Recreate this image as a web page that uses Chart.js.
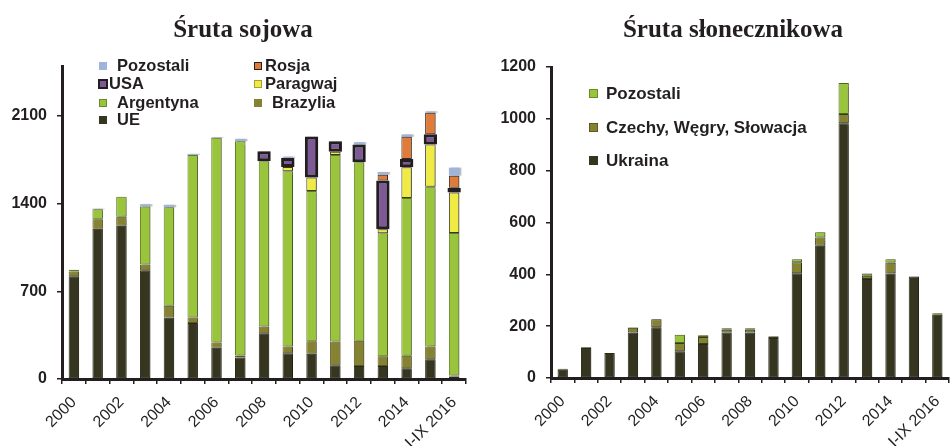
<!DOCTYPE html>
<html lang="pl">
<head>
    <meta charset="UTF-8">
    <title>Śruta sojowa / Śruta słonecznikowa</title>
    <style>
        body {
            margin: 0;
            width: 952px;
            height: 446px;
            overflow: hidden;
            background: #fff;
            position: relative;
            font-family: "Liberation Sans", Arial, sans-serif;
            color: #231f20;
        }
        .panel { position: absolute; top: 0; height: 446px; }
        .title {
            position: absolute;
            top: 16px;
            font-family: "Liberation Serif", "Times New Roman", serif;
            font-weight: bold;
            font-size: 25px;
            line-height: 25px;
            white-space: nowrap;
            transform: translateX(-50%);
        }
        .leg {
            position: absolute;
            font-weight: bold;
            font-size: 16.5px;
            line-height: 18px;
            white-space: nowrap;
        }
        .leg.big { font-size: 17px; }
        .sw {
            display: inline-block;
            width: 8px;
            height: 8px;
            margin-right: 8px;
            vertical-align: 1px;
            box-sizing: border-box;
        }
    </style>
    <script src="https://cdn.jsdelivr.net/npm/chart.js"></script>
</head>
<body>
    <div class="panel" style="left:0;width:480px"><canvas id="soy" width="480" height="446"></canvas></div>
    <div class="panel" style="left:490px;width:470px"><canvas id="sun" width="470" height="446"></canvas></div>

    <div class="title" style="left:243px">Śruta sojowa</div>
    <div class="title" style="left:733px">Śruta słonecznikowa</div>

    <div class="leg" style="left:99px;top:56px"><span class="sw" style="background:#9fb4d8;width:8px;height:8px;margin-right:10px"></span>Pozostali</div>
    <div class="leg" style="left:98px;top:74px"><span class="sw" style="background:#7d5a96;border:2px solid #231f20;width:10px;height:10px;margin-right:1px;vertical-align:0"></span>USA</div>
    <div class="leg" style="left:99px;top:93px"><span class="sw" style="background:#99c43c;border:1px solid #6b8a28;width:8px;height:8px;margin-right:10px"></span>Argentyna</div>
    <div class="leg" style="left:99px;top:110px"><span class="sw" style="background:#363620;width:8px;height:8px;margin-right:10px"></span>UE</div>
    <div class="leg" style="left:254px;top:56px"><span class="sw" style="background:#e07b3a;border:1px solid #231f20;width:8px;height:8px;margin-right:3px"></span>Rosja</div>
    <div class="leg" style="left:254px;top:74px"><span class="sw" style="background:#f0ea45;border:1px solid #a8a030;width:8px;height:8px;margin-right:3px"></span>Paragwaj</div>
    <div class="leg" style="left:254px;top:93px"><span class="sw" style="background:#858232;width:8px;height:8px;margin-right:10px"></span>Brazylia</div>

    <div class="leg big" style="left:589px;top:85px"><span class="sw" style="background:#99c43c;border:1px solid #6b8a28;width:9px;height:9px;margin-right:8px"></span>Pozostali</div>
    <div class="leg big" style="left:589px;top:119px"><span class="sw" style="background:#858232;border:1px solid #5c5a22;width:9px;height:9px;margin-right:8px"></span>Czechy, Węgry, Słowacja</div>
    <div class="leg big" style="left:589px;top:152px"><span class="sw" style="background:#363620;width:9px;height:9px;margin-right:8px"></span>Ukraina</div>

    <script>
        const years = ['2000', '2001', '2002', '2003', '2004', '2005', '2006', '2007', '2008',
            '2009', '2010', '2011', '2012', '2013', '2014', '2015', 'I-IX 2016'];

        // Śruta sojowa (tys. t)
        const soyUE        = [821, 1200, 1225, 869, 492, 447, 249, 171, 366, 206, 201, 110, 104, 104, 86, 158, 19];
        const soyBrazylia  = [38, 75, 70, 46, 94, 45, 43, 16, 54, 53, 101, 190, 201, 78, 99, 101, 8];
        const soyArgentyna = [13, 80, 160, 463, 786, 1298, 1634, 1712, 1319, 1400, 1199, 1490, 1426, 982, 1260, 1276, 1139];
        const soyParagwaj  = [null, null, null, null, null, null, null, null, null, 34, 109, 26, null, 32, 246, 338, 324];
        const soyUSA       = [null, null, null, null, null, null, null, null, 80, 73, 327, 83, 142, 390, 66, 82, 37];
        const soyRosja     = [null, null, null, null, null, null, null, null, null, null, null, null, null, 46, 177, 172, 97];
        const soyPozostali = [null, 5, null, 18, 19, 8, 5, 19, null, 10, null, null, 18, 21, 19, 10, 64];
        const soyTicks = [0, 700, 1400, 2100];

        // Śruta słonecznikowa (tys. t)
        const sunUkraina   = [32, 116, 96, 176, 196, 103, 131, 176, 176, 154, 404, 510, 983, 382, 403, 392, 244];
        const sunCzechy    = [4, 3, null, 18, 31, 32, 27, 10, 10, 6, 43, 32, 36, 13, 43, null, null];
        const sunPozostali = [null, null, null, 2, 1, 32, 7, 6, 6, 2, 11, 20, 119, 8, 12, null, 6];
        const sunTicks = [0, 200, 400, 600, 800, 1000, 1200];

        const ink = '#231f20';
        const tickFont = { family: '"Liberation Sans", Arial, sans-serif', size: 16, weight: 'bold' };
        const xFont = { family: '"Liberation Sans", Arial, sans-serif', size: 16 };

        // light grey shadow on the right side of the bars
        const shadowPlugin = {
            id: 'barShadow',
            beforeDatasetsDraw(chart) {
                const c = chart.ctx;
                c.save();
                c.shadowColor = 'rgba(0,0,0,0.28)';
                c.shadowOffsetX = 2;
                c.shadowOffsetY = 0;
                c.shadowBlur = 1;
            },
            afterDatasetsDraw(chart) {
                chart.ctx.restore();
            }
        };

        function seg(label, data, bg, border, bw, extra) {
            return Object.assign({
                label: label,
                data: data,
                backgroundColor: bg,
                borderColor: border,
                borderWidth: bw,
                borderSkipped: false,
                barPercentage: 0.44,
                categoryPercentage: 1.0
            }, extra || {});
        }

        function makeOptions(yMax, tickList, yWidth, xHeight, pad) {
            return {
                responsive: false,
                animation: false,
                layout: { padding: pad },
                plugins: { legend: { display: false }, tooltip: { enabled: false } },
                scales: {
                    x: {
                        stacked: true,
                        offset: true,
                        border: { color: ink, width: 3 },
                        grid: { display: true, drawOnChartArea: false, offset: true, tickLength: 5, color: ink, lineWidth: 1.5 },
                        ticks: {
                            autoSkip: false,
                            minRotation: 45,
                            maxRotation: 45,
                            color: ink,
                            font: xFont,
                            padding: 9,
                            callback: function (v, i) { return i % 2 === 0 ? years[i] : ''; }
                        },
                        afterFit: function (s) { s.height = xHeight; }
                    },
                    y: {
                        stacked: true,
                        min: 0,
                        max: yMax,
                        border: { color: ink, width: 3 },
                        grid: { display: true, drawOnChartArea: false, tickLength: 5, color: ink, lineWidth: 1.5 },
                        ticks: {
                            color: ink,
                            font: tickFont,
                            padding: 10,
                            callback: function (v) { return String(v); }
                        },
                        afterBuildTicks: function (s) {
                            s.ticks = tickList.map(v => ({ value: v }));
                        },
                        afterFit: function (s) { s.width = yWidth; }
                    }
                }
            };
        }

        new Chart(document.getElementById('soy'), {
            type: 'bar',
            data: {
                labels: years,
                datasets: [
                    seg('UE', soyUE, '#363620', '#2a2a18', 1),
                    seg('Brazylia', soyBrazylia, '#858232', '#5c5a22', 1),
                    seg('Argentyna', soyArgentyna, '#99c43c', '#5f7f22', 1),
                    seg('Paragwaj', soyParagwaj, '#f0ea45', '#3a3a20', 1),
                    seg('USA', soyUSA, '#7d5a96', ink, 3, { barPercentage: 0.56 }),
                    seg('Rosja', soyRosja, '#e07b3a', '#3a2a20', 1),
                    seg('Pozostali', soyPozostali, '#9fb4d8', '#9fb4d8', 0)
                ]
            },
            options: makeOptions(2500, soyTicks, 62, 67, { top: 66, right: 14, left: 0, bottom: 0 }),
            plugins: [shadowPlugin]
        });

        new Chart(document.getElementById('sun'), {
            type: 'bar',
            data: {
                labels: years,
                datasets: [
                    seg('Ukraina', sunUkraina, '#363620', '#2a2a18', 1),
                    seg('Czechy, Węgry, Słowacja', sunCzechy, '#858232', '#3a3a20', 1),
                    seg('Pozostali', sunPozostali, '#99c43c', '#4f6a1c', 1)
                ]
            },
            options: makeOptions(1200, sunTicks, 61, 68, { top: 67, right: 4, left: 0, bottom: 0 }),
            plugins: [shadowPlugin]
        });
    </script>
</body>
</html>
